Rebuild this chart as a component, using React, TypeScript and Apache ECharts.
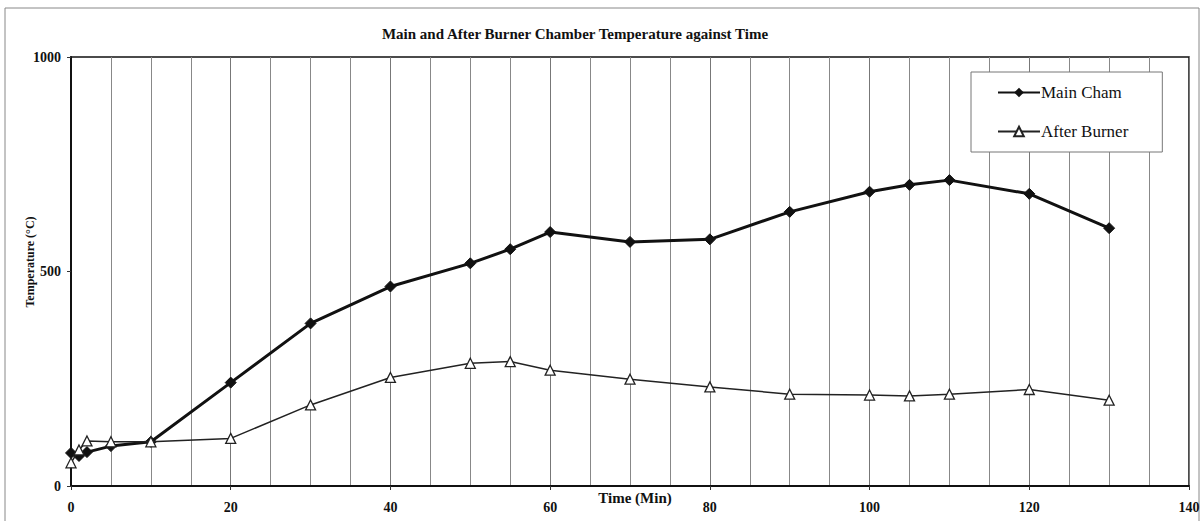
import React, { useEffect, useRef } from "react";
import * as echarts from "echarts";

const timeMin = [0, 1, 2, 5, 10, 20, 30, 40, 50, 55, 60, 70, 80, 90, 100, 105, 110, 120, 130];
const mainCham = [77, 70, 79, 93, 103, 241, 379, 465, 519, 552, 592, 569, 575, 639, 686, 702, 713, 681, 601];
const afterBurner = [54, 84, 105, 103, 103, 111, 189, 253, 286, 290, 270, 249, 231, 214, 212, 210, 214, 225, 200];

const titleText = "Main and After Burner Chamber Temperature against Time";
const xName = "Time (Min)";
const yName = "Temperature (°C)";
const seriesNames = ["Main Cham", "After Burner"];

const FONT = "'Liberation Serif', 'Times New Roman', serif";

export default function App() {
  const ref = useRef<HTMLDivElement>(null);
  useEffect(() => {
    if (!ref.current) return;
    const chart = echarts.init(ref.current, null, { renderer: "svg" });
    const pair = (ys: number[]) => timeMin.map((t, i) => [t, ys[i]]);
    chart.setOption({
      animation: false,
      backgroundColor: "#ffffff",
      textStyle: { fontFamily: FONT },
      title: {
        text: titleText,
        left: 570,
        top: 21,
        textAlign: "center",
        textStyle: { fontFamily: FONT, fontSize: 15, fontWeight: "bold", color: "#111" },
      },
      graphic: [
        {
          type: "rect",
          shape: { x: 5, y: 8, width: 1194, height: 530 },
          style: { fill: "none", stroke: "#888", lineWidth: 1 },
          silent: true,
        },
        {
          type: "text",
          x: 635,
          y: 498,
          style: {
            text: xName,
            fontFamily: FONT,
            fontSize: 15,
            fontWeight: "bold",
            fill: "#111",
            align: "center",
            verticalAlign: "middle",
          },
          silent: true,
        },
        {
          type: "text",
          x: 30,
          y: 262,
          rotation: Math.PI / 2,
          style: {
            text: yName,
            fontFamily: FONT,
            fontSize: 12,
            fontWeight: "bold",
            fill: "#111",
            align: "center",
            verticalAlign: "middle",
          },
          silent: true,
        },
      ],
      legend: {
        orient: "vertical",
        left: 971,
        top: 72,
        width: 187,
        backgroundColor: "#fff",
        borderColor: "#777",
        borderWidth: 1,
        padding: [12, 34, 12, 26],
        itemGap: 22,
        itemWidth: 42,
        itemHeight: 12,
        textStyle: { fontFamily: FONT, fontSize: 17, color: "#111", padding: [0, 0, 0, -4] },
        data: seriesNames,
      },
      grid: {
        left: 71,
        right: 15,
        top: 57,
        bottom: 35,
        outerBoundsMode: "none",
        containLabel: false,
        show: true,
        borderColor: "#111",
        borderWidth: 1.5,
        backgroundColor: "transparent",
      },
      xAxis: {
        type: "value",
        min: 0,
        max: 140,
        interval: 20,
        axisLine: { lineStyle: { color: "#111", width: 2 } },
        axisTick: { show: true, length: 4, lineStyle: { color: "#333" } },
        minorTick: { show: false, splitNumber: 4 },
        axisLabel: { fontFamily: FONT, fontSize: 14, fontWeight: "bold", color: "#111", margin: 14, formatter: (v: number) => String(v) },
        splitLine: { show: true, lineStyle: { color: "#777", width: 1 } },
        minorSplitLine: { show: true, lineStyle: { color: "#888", width: 1 } },
      },
      yAxis: {
        type: "value",
        min: 0,
        max: 1000,
        interval: 500,
        axisLine: { show: true, lineStyle: { color: "#111", width: 2 } },
        axisTick: { show: true, length: 4, lineStyle: { color: "#333" } },
        axisLabel: { fontFamily: FONT, fontSize: 14, fontWeight: "bold", color: "#111", margin: 10, formatter: (v: number) => String(v) },
        splitLine: { show: false },
      },
      series: [
        {
          name: seriesNames[0],
          type: "line",
          data: pair(mainCham),
          symbol: "diamond",
          symbolSize: 11,
          lineStyle: { color: "#111", width: 3 },
          itemStyle: { color: "#111", borderColor: "#111" },
          z: 3,
        },
        {
          name: seriesNames[1],
          type: "line",
          data: pair(afterBurner),
          symbol: "triangle",
          symbolSize: 10,
          lineStyle: { color: "#222", width: 1.5 },
          itemStyle: { color: "#fff", borderColor: "#222", borderWidth: 1.3 },
          z: 4,
        },
      ],
    });
    return () => chart.dispose();
  }, []);
  return <div ref={ref} style={{ position: "fixed", left: 0, top: 0, width: 1204, height: 521 }} />;
}
